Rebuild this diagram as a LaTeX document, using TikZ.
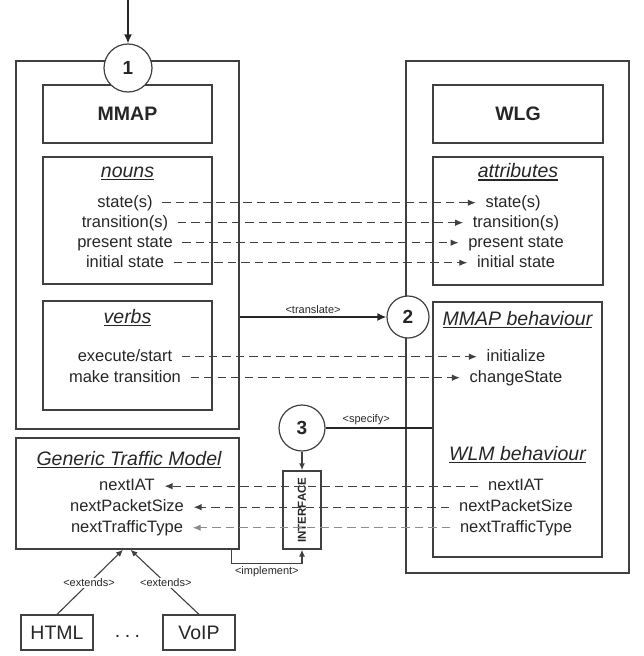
\documentclass[tikz,border=0pt]{standalone}
\usepackage{fontspec}
\setmainfont{Liberation Sans}
\usetikzlibrary{arrows.meta}

\definecolor{ink}{HTML}{262626}
\definecolor{edge}{HTML}{404040}

% underlined heading with a thicker rule
\newcommand\ulinetext[1]{\leavevmode\sbox0{#1}\rlap{\rule[-3pt]{\wd0}{1.1pt}}\box0}

\tikzset{
  frame/.style={draw=edge, line width=1.4pt, inner sep=0pt},
  bubble/.style={circle, draw=edge, line width=1.2pt, fill=white, minimum size=#1,
    inner sep=0pt, text=ink, font=\fontsize{19}{19}\selectfont\bfseries},
  title/.style={text=ink, font=\fontsize{19.5}{22}\selectfont\bfseries},
  head/.style={anchor=base, text=ink, inner sep=0pt, font=\fontsize{19.5}{22}\selectfont\itshape},
  item/.style={anchor=base, text=ink, inner xsep=9.5pt, inner ysep=1pt,
    font=\fontsize{16.5}{18}\selectfont},
  leaf/.style={draw=edge, line width=1.2pt, inner sep=0pt, text=ink,
    minimum width=72pt, minimum height=35pt, font=\fontsize{19.5}{22}\selectfont},
  tag/.style={text=ink, inner sep=1pt, font=\fontsize{11}{12}\selectfont},
  map/.style={draw=edge, line width=1.2pt, dash pattern=on 8.5pt off 5pt,
    -{Latex[length=8pt,width=6.5pt]}},
  flow/.style={draw=black!85, line width=1.5pt, -{Latex[length=9pt,width=8pt]}},
  link/.style={draw=edge, line width=1.1pt, -{Latex[length=7pt,width=6pt]}},
}

\begin{document}
\begin{tikzpicture}[x=1pt, y=-1pt]
\useasboundingbox (0,0) rectangle (644,656);

% ---- containers ----
\node[frame, minimum width=223pt, minimum height=368pt] (mmapside) at (127.5,245) {};
\node[frame, minimum width=223pt, minimum height=512pt] (wlgside) at (517.5,317) {};

% ---- MMAP side ----
\node[frame, title, minimum width=169pt, minimum height=58pt] (mmap) at (127.5,114) {MMAP};
\node[frame, minimum width=169pt, minimum height=127pt] (nouns) at (127.5,220.5) {};
\node[head] (nounsH) at (127.5,177) {\ulinetext{nouns}};
\node[item] (nS) at (125,207) {state(s)};
\node[item] (nT) at (125,227) {transition(s)};
\node[item] (nP) at (125,247) {present state};
\node[item] (nI) at (125,267) {initial state};

\node[frame, minimum width=169pt, minimum height=109pt] (verbs) at (127.5,355.5) {};
\node[head] (verbsH) at (127.5,323) {\ulinetext{verbs}};
\node[item] (vE) at (125,361) {execute/start};
\node[item] (vM) at (125,382) {make transition};

% ---- WLG side ----
\node[frame, title, minimum width=170pt, minimum height=58pt] (wlg) at (518,114) {WLG};
\node[frame, minimum width=170pt, minimum height=128pt] (attrs) at (518,221) {};
\node[head] (attrsH) at (518,177.5) {\ulinetext{attributes}};
\node[item] (aS) at (513,207) {state(s)};
\node[item] (aT) at (516,227) {transition(s)};
\node[item] (aP) at (516,247) {present state};
\node[item] (aI) at (516,267) {initial state};

\node[frame, minimum width=169pt, minimum height=255pt] (behav) at (517.5,429.5) {};
\node[head] (mbH) at (517.5,325) {\ulinetext{MMAP behaviour}};
\node[item] (bI) at (516,361) {initialize};
\node[item] (bC) at (516,382) {changeState};
\node[head] (wbH) at (517.5,460) {\ulinetext{WLM behaviour}};
\node[item] (wA) at (516,490.5) {nextIAT};
\node[item] (wP) at (516,511.5) {nextPacketSize};
\node[item] (wT) at (516,532) {nextTrafficType};

% ---- generic traffic model ----
\node[frame, minimum width=223pt, minimum height=111pt] (gtm) at (127.5,493.5) {};
\node[head] (gtmH) at (129,465) {\ulinetext{Generic Traffic Model}};
\node[item] (gA) at (127,490.5) {nextIAT};
\node[item] (gP) at (127,511.5) {nextPacketSize};
\node[item] (gT) at (127,532) {nextTrafficType};

\node[frame, minimum width=38pt, minimum height=78pt] (iface) at (302,510) {};
\node[rotate=90, text=ink, inner sep=0pt, font=\fontsize{11.5}{12}\selectfont\bfseries]
  (ifaceT) at (iface) {INTERFACE};

% ---- concrete models ----
\node[leaf] (html) at (57,632.5) {HTML};
\node[leaf] (voip) at (199,632.5) {VoIP};
\node[anchor=base, text=ink, inner sep=0pt, font=\fontsize{19.5}{22}\selectfont]
  (dots) at (127.5,637) {.\hspace{4.5pt}.\hspace{4.5pt}.};

% ---- noun / verb mappings ----
\foreach \a/\b in {nS/aS, nT/aT, nP/aP, nI/aI, vE/bI, vM/bC}
  \draw[map] ([yshift=4.3pt]\a.base east) -- ([yshift=4.3pt]\b.base west);

% ---- traffic model methods ----
\draw[map] ([yshift=4.3pt]wA.base west) -- ([yshift=4.3pt]gA.base east);
\draw[map] ([yshift=4.3pt]wP.base west) -- ([yshift=4.3pt]gP.base east);
\draw[map, draw=black!45] ([yshift=4.3pt]wT.base west) -- ([yshift=4.3pt]gT.base east);

% ---- numbered steps ----
\node[bubble=48pt] (c1) at (128,68) {1};
\node[bubble=42pt] (c2) at (408,317) {2};
\node[bubble=46pt] (c3) at (302,428) {3};

\coordinate (entry) at (128,0);
\draw[flow] (entry) -- (c1.north);
\draw[flow] (mmapside.east |- c2) -- node[tag, above=2pt] {<translate>} (c2.west);
\draw[draw=black!85, line width=1.4pt] (c3.east) -- node[tag, pos=0.38, above=2pt] {<specify>} (behav.west |- c3);
\draw[link, line width=1.4pt] (c3.south) -- (iface.north);
\draw[link] ([xshift=-8pt]gtm.south east) -- ++(0,14)
  -| node[tag, pos=0.25, below=1pt] {<implement>} (iface.south);

% ---- inheritance ----
\draw[link] (html.north) -- node[tag, fill=white, pos=0.485] {<extends>} ([xshift=-4.5pt]gtm.south);
\draw[link] (voip.north) -- node[tag, fill=white, pos=0.485] {<extends>} ([xshift=3pt]gtm.south);
\end{tikzpicture}
\end{document}
